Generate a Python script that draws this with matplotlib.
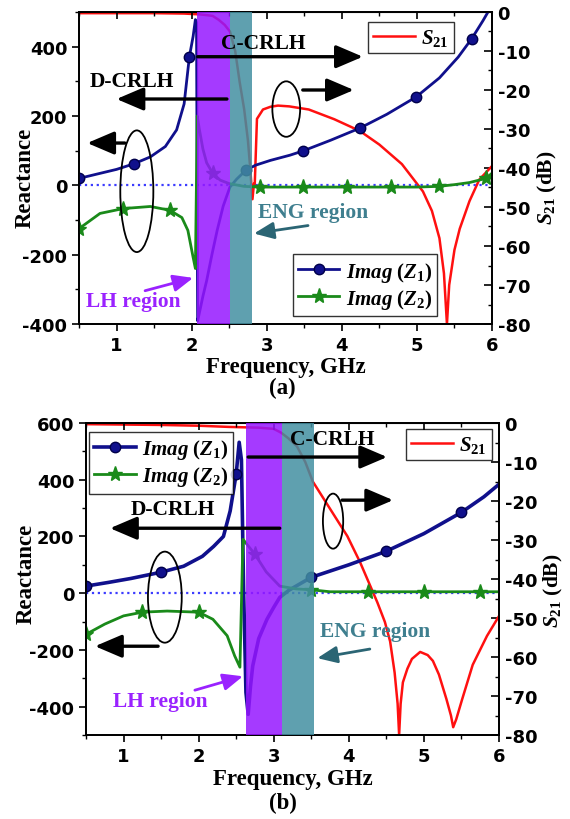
import matplotlib
matplotlib.use("Agg")
import matplotlib.pyplot as plt
from matplotlib.patches import Ellipse
from matplotlib.ticker import MultipleLocator

plt.rcParams["mathtext.fontset"] = "custom"
plt.rcParams["mathtext.rm"] = "Liberation Serif:bold"
plt.rcParams["mathtext.it"] = "Liberation Serif:italic:bold"
plt.rcParams["mathtext.bf"] = "Liberation Serif:bold"
plt.rcParams["axes.unicode_minus"] = False

# ---------------- panel (a) data ----------------
a_z1_f = [0.5, 0.75, 1.0, 1.23, 1.45, 1.65, 1.8, 1.9, 1.97, 2.02, 2.05, 2.065, 2.08, 2.1,
          2.15, 2.2, 2.27, 2.34, 2.42, 2.51, 2.6, 2.72, 2.85, 3.05, 3.31, 3.48, 3.85, 4.24,
          4.6, 4.99, 5.3, 5.55, 5.73, 5.88, 6.0]
a_z1 = [20, 33, 46, 62, 82, 112, 160, 235, 371, 430, 478, 470, -391, -371,
        -320, -275, -200, -130, -60, -5, 18, 43, 58, 72, 87, 99, 130, 165,
        205, 255, 310, 370, 423, 475, 520]
a_z1_marks = [0.5, 1.23, 1.97, 2.72, 3.48, 4.24, 4.99, 5.73]

a_z2_f = [0.5, 0.78, 1.09, 1.45, 1.71, 1.87, 1.95, 2.02, 2.05, 2.075, 2.1, 2.15, 2.2, 2.28,
          2.38, 2.5, 2.7, 2.91, 3.48, 4.07, 4.66, 5.0, 5.29, 5.5, 5.7, 5.92, 6.0]
a_z2 = [-125, -81, -67, -61, -72, -93, -130, -208, -240, 200, 165, 105, 65, 35,
        15, 5, -3, -5, -5, -5, -5, -5, -3, 2, 8, 20, 35]
a_z2_marks = [0.5, 1.09, 1.71, 2.28, 2.91, 3.48, 4.07, 4.66, 5.29, 5.92]

a_s21_f = [0.5, 1.0, 1.5, 1.9, 2.0, 2.1, 2.2, 2.28, 2.36, 2.44, 2.51, 2.58, 2.64, 2.7, 2.75,
           2.78, 2.81, 2.83, 2.84, 2.87, 2.95, 3.05, 3.15, 3.3, 3.56, 3.9, 4.24, 4.5, 4.8,
           5.08, 5.2, 5.3, 5.36, 5.4, 5.43, 5.5, 5.57, 5.7, 5.83, 6.0]
a_s21 = [-0.3, -0.3, -0.3, -0.4, -0.5, -0.6, -0.8, -1, -2, -3.3, -5, -10, -18, -25, -33,
         -40, -48, -44, -44.5, -27.4, -25, -24.3, -24, -24.2, -25, -27.5, -30.5, -34, -39,
         -46, -51, -58, -67, -80, -70, -61, -55.6, -48.5, -43, -39.5]
a_lh = (2.07, 2.51)
a_eng = (2.51, 2.8)

# ---------------- panel (b) data ----------------
b_z1_f = [0.5, 0.8, 1.1, 1.5, 1.8, 2.05, 2.2, 2.33, 2.42, 2.5, 2.54, 2.57, 2.6, 2.63, 2.66,
          2.69, 2.72, 2.8, 2.91, 3.0, 3.08, 3.2, 3.5, 4.0, 4.5, 5.0, 5.5, 5.8, 6.0]
b_z1 = [25, 38, 52, 74, 95, 130, 165, 200, 290, 420, 532, 470, 0, -350, -427,
        -330, -257, -160, -92, -50, -15, 10, 56, 100, 148, 210, 285, 340, 384]
b_z1_marks = [0.5, 1.5, 2.5, 3.5, 4.5, 5.5]

b_z2_f = [0.5, 0.75, 1.0, 1.25, 1.58, 2.0, 2.19, 2.38, 2.48, 2.55, 2.59, 2.65, 2.75, 2.9,
          3.08, 3.3, 3.5, 3.75, 4.25, 5.0, 5.75, 6.0]
b_z2 = [-145, -109, -80, -67, -63, -67, -92, -150, -221, -261, 190, 170, 137, 75,
        25, 15, 12, 5, 5, 5, 5, 5]
b_z2_marks = [0.5, 1.25, 2.0, 2.75, 3.5, 4.25, 5.0, 5.75]

b_s21_f = [0.5, 1.0, 1.5, 2.0, 2.4, 2.6, 2.8, 3.0, 3.1, 3.2, 3.31, 3.42, 3.52, 3.75, 3.98,
           4.15, 4.38, 4.48, 4.55, 4.61, 4.65, 4.67, 4.69, 4.72, 4.78, 4.84, 4.95, 5.05,
           5.12, 5.2, 5.3, 5.36, 5.39, 5.43, 5.51, 5.65, 5.84, 6.0]
b_s21 = [-0.3, -0.4, -0.5, -0.7, -1.0, -1.1, -1.2, -1.5, -2.5, -4, -6, -10, -15, -22, -29,
         -35.7, -46, -51, -56, -64, -72, -80, -72, -66.5, -63, -60.5, -58.7, -59.5,
         -61, -64.5, -70.8, -75, -78, -76, -70.8, -62, -54.6, -49.5]
b_lh = (2.63, 3.11)
b_eng = (3.11, 3.54)

x_ticks = [1, 2, 3, 4, 5, 6]
s21_ticks = [0, -10, -20, -30, -40, -50, -60, -70, -80]

BLUE = "#10108c"
GREEN = "#1a8a1a"
RED = "#ff1010"
PURPLE = "#9617ff"
TEAL = "#438fa1"
LH_TXT = "#9a22ff"
ENG_TXT = "#3f7f8f"
ENG_ARR = "#2b6574"

SERIF = "Liberation Serif"
TICKFONT = dict(family="DejaVu Sans", weight="bold", size=13)
TXT = dict(family=SERIF, weight="bold", size=15.5)

fig = plt.figure(figsize=(5.7, 8.2), dpi=100)


def arrow(ax, tail, head, color="k", lw=2.4, scale=22):
    ax.annotate("", xy=head, xytext=tail, zorder=6,
                arrowprops=dict(arrowstyle="-|>,head_length=0.75,head_width=0.32",
                                lw=lw, color=color, mutation_scale=scale,
                                shrinkA=0, shrinkB=0))


def panel(rect, z1_f, z1, z1_m, z2_f, z2, z2_m, s_f, s, lh, eng, ylim, yticks,
          z1_lw, leg_loc, leg_anchor, s_anchor):
    ax = fig.add_axes(rect)
    ax2 = ax.twinx()
    ax.set_zorder(ax2.get_zorder() + 1)
    ax.patch.set_visible(False)

    ax2.plot(s_f, s, color=RED, lw=1.8, label=r"$S_{21}$")
    ax2.set_ylim(-80, 0)
    ax2.set_yticks(s21_ticks)
    ax2.yaxis.set_minor_locator(MultipleLocator(5))

    ax.axhline(0, color="#3c3cff", ls=":", lw=1.6, zorder=1.5)
    l1, = ax.plot(z1_f, z1, color=BLUE, lw=z1_lw, marker="o", ms=7.5, mec="#00004a",
                  markevery=[z1_f.index(m) for m in z1_m], label=r"$Imag$ $(Z_{1})$", zorder=2)
    l2, = ax.plot(z2_f, z2, color=GREEN, lw=2.0, marker="*", ms=11,
                  markevery=[z2_f.index(m) for m in z2_m], label=r"$Imag$ $(Z_{2})$", zorder=2)
    ax.axvspan(lh[0], lh[1], color=PURPLE, alpha=0.85, lw=0, zorder=3)
    ax.axvspan(eng[0], eng[1], color=TEAL, alpha=0.85, lw=0, zorder=3)

    ax.set_xlim(0.5, 6)
    ax.set_ylim(*ylim)
    ax.set_xticks(x_ticks)
    ax.set_yticks(yticks)
    ax.xaxis.set_minor_locator(MultipleLocator(0.5))
    ax.yaxis.set_minor_locator(MultipleLocator(100))
    ax.tick_params(axis="x", which="both", direction="out", top=False)
    ax.tick_params(axis="y", which="both", direction="out")
    ax.tick_params(which="major", length=5, width=1.2)
    ax.tick_params(which="minor", length=3, width=1.0)
    ax2.tick_params(axis="y", which="both", direction="in", pad=4)
    ax2.tick_params(which="major", length=6, width=1.2)
    ax2.tick_params(which="minor", length=3, width=1.0)
    sec = ax.secondary_xaxis("top")
    sec.set_xticks(x_ticks)
    sec.set_xticklabels([])
    sec.xaxis.set_minor_locator(MultipleLocator(0.5))
    sec.tick_params(which="both", direction="in")
    sec.tick_params(which="major", length=5, width=1.2)
    sec.tick_params(which="minor", length=3, width=1.0)
    for a in (ax, ax2):
        for sp in a.spines.values():
            sp.set_linewidth(1.3)
    for lab in ax.get_xticklabels() + ax.get_yticklabels() + ax2.get_yticklabels():
        lab.set_fontproperties(TICKFONT)
        lab.set_fontsize(TICKFONT["size"])

    leg = ax.legend(handles=[l1, l2], loc=leg_loc, bbox_to_anchor=leg_anchor,
                    prop=dict(family=SERIF, weight="bold", style="italic", size=15),
                    frameon=True, fancybox=False, edgecolor="k", borderpad=0.25,
                    labelspacing=0.15, handlelength=2.0, handletextpad=0.3, borderaxespad=0)
    leg.get_frame().set_linewidth(1.0)
    leg2 = ax2.legend(loc="upper right", bbox_to_anchor=s_anchor,
                      prop=dict(family=SERIF, weight="bold", size=15),
                      frameon=True, fancybox=False, edgecolor="k", borderpad=0.25,
                      handlelength=2.0, handletextpad=0.3, borderaxespad=0)
    leg2.get_frame().set_linewidth(1.0)
    return ax, ax2


# ---------------- panel (a) ----------------
axa, axa2 = panel([79 / 570, 1 - 325 / 820, 413 / 570, 312 / 820],
                  a_z1_f, a_z1, a_z1_marks, a_z2_f, a_z2, a_z2_marks, a_s21_f, a_s21,
                  a_lh, a_eng, (-400, 500), [-400, -200, 0, 200, 400], 2.0,
                  "lower right", (0.867, 0.026), (0.908, 0.968))
axa.set_xlabel("Frequency, GHz", family=SERIF, weight="bold", size=16.5, va="center")
axa.xaxis.set_label_coords(0.5, -0.135)
axa.set_ylabel("Reactance", family=SERIF, weight="bold", size=16.5, va="center", ha="center")
axa.yaxis.set_label_coords(-0.131, 0.47)
axa2.set_ylabel(r"$S_{21}$ (dB)", family=SERIF, weight="bold", size=15.5, va="center", ha="center")
axa2.yaxis.set_label_coords(1.135, 0.44)

axa.add_patch(Ellipse((1.27, -17), 0.44, 351, fill=False, lw=1.3, ec="k", zorder=6))
axa.add_patch(Ellipse((3.26, 220), 0.37, 160, fill=False, lw=1.3, ec="k", zorder=6))
arrow(axa, (1.11, 122), (0.61, 122))
arrow(axa, (2.47, 249), (1.0, 249))
arrow(axa, (2.08, 371), (4.28, 371))
arrow(axa, (3.48, 275), (4.16, 275))
axa.text(1.2, 301, "D-CRLH", ha="center", va="center", zorder=6, **TXT)
axa.text(2.96, 411, "C-CRLH", ha="center", va="center", zorder=6, **TXT)
axa.text(1.22, -333, "LH region", ha="center", va="center", color=LH_TXT, zorder=6, **TXT)
arrow(axa, (1.38, -304), (2.02, -267), color=LH_TXT, lw=2.0, scale=16)
axa.text(3.62, -78, "ENG region", ha="center", va="center", color=ENG_TXT, zorder=6, **TXT)
arrow(axa, (3.55, -116), (2.83, -139), color=ENG_ARR, lw=2.0, scale=16)
fig.text(0.496, 1 - 388 / 820, "(a)", ha="center", va="center", family=SERIF,
         weight="bold", size=16.5)

# ---------------- panel (b) ----------------
axb, axb2 = panel([86 / 570, 1 - 736 / 820, 413 / 570, 312 / 820],
                  b_z1_f, b_z1, b_z1_marks, b_z2_f, b_z2, b_z2_marks, b_s21_f, b_s21,
                  b_lh, b_eng, (-500, 600), [-400, -200, 0, 200, 400, 600], 2.6,
                  "upper left", (0.007, 0.971), (0.983, 0.981))
axb.set_xlabel("Frequency, GHz", family=SERIF, weight="bold", size=16.5, va="center")
axb.xaxis.set_label_coords(0.5, -0.141)
axb.set_ylabel("Reactance", family=SERIF, weight="bold", size=16.5, va="center", ha="center")
axb.yaxis.set_label_coords(-0.145, 0.52)
axb2.set_ylabel(r"$S_{21}$ (dB)", family=SERIF, weight="bold", size=15.5, va="center", ha="center")
axb2.yaxis.set_label_coords(1.132, 0.465)

axb.add_patch(Ellipse((1.55, -14), 0.45, 321, fill=False, lw=1.3, ec="k", zorder=6))
axb.add_patch(Ellipse((3.79, 254), 0.27, 194, fill=False, lw=1.3, ec="k", zorder=6))
arrow(axb, (1.46, -187), (0.62, -187))
arrow(axb, (3.08, 229), (0.82, 229))
arrow(axb, (2.66, 480), (4.51, 480))
arrow(axb, (3.91, 328), (4.59, 328))
axb.text(1.66, 296, "D-CRLH", ha="center", va="center", zorder=6, **TXT)
axb.text(3.78, 543, "C-CRLH", ha="center", va="center", zorder=6, **TXT)
axb.text(1.49, -381, "LH region", ha="center", va="center", color=LH_TXT, zorder=6, **TXT)
arrow(axb, (1.95, -342), (2.59, -293), color=LH_TXT, lw=2.0, scale=16)
axb.text(4.35, -134, "ENG region", ha="center", va="center", color=ENG_TXT, zorder=6, **TXT)
arrow(axb, (4.28, -197), (3.58, -229), color=ENG_ARR, lw=2.0, scale=16)
fig.text(0.496, 1 - 803 / 820, "(b)", ha="center", va="center", family=SERIF,
         weight="bold", size=16.5)

fig.savefig("out.png", dpi=100)
